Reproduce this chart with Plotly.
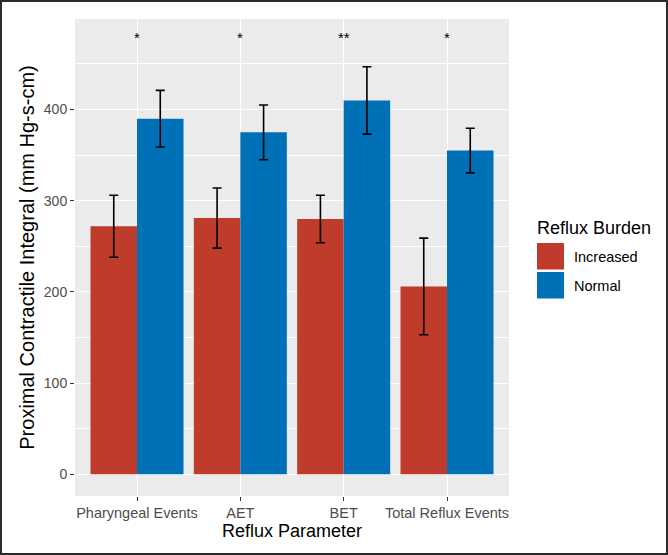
import plotly.graph_objects as go

categories = ["Pharyngeal Events", "AET", "BET", "Total Reflux Events"]
increased_mean = [272, 281, 280, 206]
increased_err = [34, 33, 26, 53]
normal_mean = [390, 375, 410, 355]
normal_err = [31, 30, 37, 24.5]
signif = ["*", "*", "**", "*"]
signif_y = [479, 479, 479, 479]
y_ticks = [0, 100, 200, 300, 400]

RED = "#BF3B2B"
BLUE = "#0071B6"
FONT = "Liberation Sans, Arial, sans-serif"

# panel pixel geometry
L, R, T, B = 75, 509, 19, 496
W, H = 668, 555
PW, PH = R - L, B - T


def px(x):
    return (x - L) / PW


def py(y):
    return (B - y) / PH


fig = go.Figure()
fig.add_trace(go.Bar(
    x=categories, y=increased_mean, name="Increased", marker_color=RED,
    marker_line_width=0,
    error_y=dict(type="data", array=increased_err, color="black", thickness=1.6, width=4.5),
))
fig.add_trace(go.Bar(
    x=categories, y=normal_mean, name="Normal", marker_color=BLUE,
    marker_line_width=0,
    error_y=dict(type="data", array=normal_err, color="black", thickness=1.6, width=4.5),
))

for c, s, yv in zip(categories, signif, signif_y):
    fig.add_annotation(x=c, y=yv, xref="x", yref="y", text=s, showarrow=False,
                       font=dict(family=FONT, size=15, color="black"), yanchor="middle")

# custom legend
fig.add_annotation(x=px(535), y=py(228), xref="paper", yref="paper", text="Reflux Burden",
                   showarrow=False, xanchor="left", yanchor="middle",
                   font=dict(family=FONT, size=18, color="black"))
for i, (name, col) in enumerate([("Increased", RED), ("Normal", BLUE)]):
    y0 = 243 + i * 29
    fig.add_shape(type="rect", xref="paper", yref="paper",
                  x0=px(537), x1=px(564), y0=py(y0), y1=py(y0 + 26.5),
                  fillcolor=col, line_width=0)
    fig.add_annotation(x=px(572), y=py(y0 + 13.5), xref="paper", yref="paper", text=name,
                       showarrow=False, xanchor="left", yanchor="middle",
                       font=dict(family=FONT, size=14.5, color="black"))

# outer frame
fig.add_shape(type="rect", xref="paper", yref="paper",
              x0=px(1), x1=px(667), y0=py(1), y1=py(554),
              line=dict(color="#2b2b2b", width=2), fillcolor="rgba(0,0,0,0)", layer="above")

fig.update_layout(
    width=W, height=H,
    margin=dict(l=L, r=W - R, t=T, b=H - B),
    paper_bgcolor="white", plot_bgcolor="#EBEBEB",
    barmode="group", bargap=0.1, bargroupgap=0,
    showlegend=False,
    font=dict(family=FONT),
    xaxis=dict(
        range=[-0.6, 3.6], showgrid=True, gridcolor="white", gridwidth=1.4,
        ticks="outside", ticklen=4, tickwidth=1.2, tickcolor="#333333",
        tickfont=dict(family=FONT, size=14.5, color="#4D4D4D"),
        title=dict(text="Reflux Parameter", font=dict(family=FONT, size=18, color="black"), standoff=2),
        zeroline=False, showline=False,
    ),
    yaxis=dict(
        range=[-23.8, 499.3], tickvals=y_ticks, ticktext=[str(v) for v in y_ticks],
        showgrid=True, gridcolor="white", gridwidth=1.4,
        minor=dict(dtick=50, tick0=50, showgrid=True, gridcolor="white", gridwidth=0.6, ticks=""),
        ticks="outside", ticklen=4, tickwidth=1.2, tickcolor="#333333",
        tickfont=dict(family=FONT, size=14, color="#4D4D4D"),
        title=dict(text="Proximal Contractile Integral (mm Hg-s-cm)",
                   font=dict(family=FONT, size=20, color="black"), standoff=3),
        zeroline=False, showline=False,
    ),
)

fig.write_html("out.html", config={"displayModeBar": False},
               post_script="document.body.style.margin='0';document.body.style.padding='0';")
